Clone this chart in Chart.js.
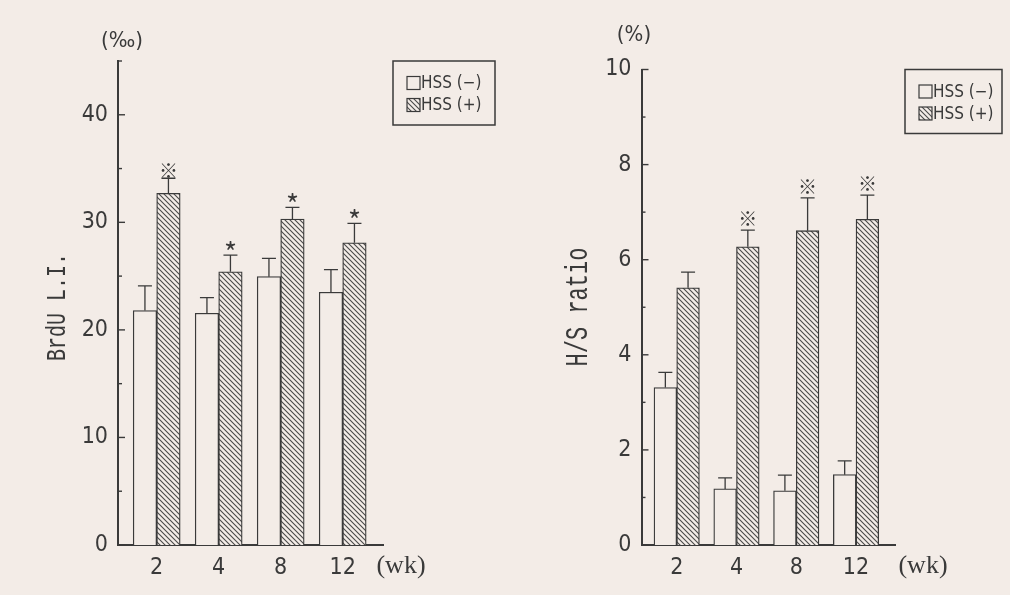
<!DOCTYPE html>
<html><head><meta charset="utf-8">
<script src="https://cdn.jsdelivr.net/npm/chart.js@4.4.0/dist/chart.umd.min.js"></script>
<style>
html,body{margin:0;padding:0;background:#f3ece7;}
#wrap{position:relative;width:1010px;height:595px;overflow:hidden;background:#f3ece7;}
canvas{position:absolute;top:0;}
</style></head><body>
<div id="wrap">
<canvas id="left" width="505" height="595" style="left:0;width:505px;height:595px"></canvas>
<canvas id="right" width="505" height="595" style="left:505px;width:505px;height:595px"></canvas>
</div>
<script>
// ---------- data ----------
const weeks = ['2', '4', '8', '12'];
const seriesLabels = ['HSS (−)', 'HSS (+)'];

const brduNeg   = [21.8, 21.55, 24.95, 23.5];
const brduNegSD = [2.3, 1.45, 1.7, 2.1];
const brduPos   = [32.7, 25.4, 30.3, 28.1];
const brduPosSD = [1.4, 1.55, 1.1, 1.8];
const brduNegMarks = ['', '', '', ''];
const brduPosMarks = ['※', '*', '*', '*'];
const brduTicks      = [0, 5, 10, 15, 20, 25, 30, 35, 40, 45];
const brduTickLabels = ['0', '', '10', '', '20', '', '30', '', '40', ''];

const hsNeg   = [3.31, 1.18, 1.14, 1.48];
const hsNegSD = [0.32, 0.23, 0.33, 0.29];
const hsPos   = [5.41, 6.27, 6.61, 6.85];
const hsPosSD = [0.33, 0.35, 0.69, 0.51];
const hsNegMarks = ['', '', '', ''];
const hsPosMarks = ['', '※', '※', '※'];
const hsTicks      = [0, 1, 2, 3, 4, 5, 6, 7, 8, 9, 10];
const hsTickLabels = ['0', '', '2', '', '4', '', '6', '', '8', '', '10'];

const leftUnit = '(‰)', leftTitle = 'BrdU L.I.';
const rightUnit = '(%)', rightTitle = 'H/S ratio';
const xUnit = '(wk)';

// ---------- styles ----------
const PAPER = '#f3ece7';
const INK = '#3a3a3a';
const NARROW = "'Liberation Sans Narrow','Arial Narrow','DejaVu Sans Condensed',sans-serif";
const MONO = "'Liberation Mono','DejaVu Sans Mono',monospace";
const SERIF = "'Liberation Serif','DejaVu Serif',serif";
const CJK = "'Noto Sans CJK JP',sans-serif";

function hatchPattern() {
  const n = 5;
  const c = document.createElement('canvas');
  c.width = n; c.height = n;
  const g = c.getContext('2d');
  g.fillStyle = PAPER; g.fillRect(0, 0, n, n);
  g.strokeStyle = '#4a4a4a'; g.lineWidth = 1.1;
  g.beginPath();
  g.moveTo(-1, -1); g.lineTo(n + 1, n + 1);
  g.moveTo(-1, n - 1); g.lineTo(1, n + 1);
  g.moveTo(n - 1, -1); g.lineTo(n + 1, 1);
  g.stroke();
  return g.createPattern(c, 'repeat');
}

function drawCentered(ctx, text, x, cy) {
  const m = ctx.measureText(text);
  const a = m.actualBoundingBoxAscent, d = m.actualBoundingBoxDescent;
  ctx.textAlign = 'center'; ctx.textBaseline = 'alphabetic';
  ctx.fillText(text, x, cy + (a - d) / 2);
}

function makeDecor(cfg) {
  return {
    id: 'decor',
    afterDatasetsDraw(chart) {
      const ctx = chart.ctx, ys = chart.scales.y;
      ctx.save();
      ctx.strokeStyle = INK; ctx.lineWidth = 1.3;
      chart.data.datasets.forEach((ds, i) => {
        const meta = chart.getDatasetMeta(i);
        meta.data.forEach((bar, j) => {
          const top = ys.getPixelForValue(ds.data[j].y + ds.sd[j]);
          ctx.beginPath();
          ctx.moveTo(bar.x, bar.y); ctx.lineTo(bar.x, top);
          ctx.moveTo(bar.x - 7, top); ctx.lineTo(bar.x + 7, top);
          ctx.stroke();
          const m = ds.marks[j];
          if (m) {
            ctx.fillStyle = INK;
            ctx.font = (m === '*' ? '28px ' : '19px ') + CJK;
            drawCentered(ctx, m, bar.x, top - (m === '*' ? 10 : cfg.markGap));
          }
        });
      });
      ctx.restore();
    },
    afterDraw(chart) {
      const ctx = chart.ctx, ca = chart.chartArea, ys = chart.scales.y;
      ctx.save();
      // inward tick marks on the y axis
      ctx.strokeStyle = INK; ctx.lineWidth = 1.4;
      ys.ticks.forEach((t, i) => {
        const py = ys.getPixelForValue(t.value);
        const len = cfg.tickLabels[i] ? 7 : 4;
        ctx.beginPath(); ctx.moveTo(ca.left, py); ctx.lineTo(ca.left + len, py); ctx.stroke();
      });
      // unit above y axis
      ctx.fillStyle = INK;
      ctx.font = '22px ' + NARROW;
      ctx.textAlign = 'center'; ctx.textBaseline = 'middle';
      ctx.fillText(cfg.unit, ca.left + cfg.unitDx, cfg.unitY);
      // rotated y title
      ctx.save();
      ctx.translate(ca.left + cfg.titleDx, cfg.titleY);
      ctx.rotate(-Math.PI / 2);
      ctx.scale(1, 1.4);
      ctx.font = cfg.titleSize + 'px ' + MONO;
      ctx.textAlign = 'center'; ctx.textBaseline = 'middle';
      ctx.fillText(cfg.title, 0, 0);
      ctx.restore();
      // x unit
      ctx.font = '26px ' + SERIF;
      ctx.textAlign = 'center'; ctx.textBaseline = 'middle';
      ctx.fillText(xUnit, ca.right + cfg.xUnitDx, ca.bottom + 21);
      // legend box
      const L = { x: ca.right + 10, y: ca.top, w: cfg.legW, h: 64 };
      ctx.lineWidth = 1.5; ctx.strokeStyle = INK;
      ctx.strokeRect(L.x, L.y, L.w, L.h);
      chart.data.datasets.forEach((ds, i) => {
        const sy = L.y + 22 + i * 22;
        ctx.fillStyle = ds.backgroundColor;
        ctx.fillRect(L.x + 14, sy - 6.5, 13, 13);
        ctx.lineWidth = 1.2;
        ctx.strokeRect(L.x + 14, sy - 6.5, 13, 13);
        ctx.fillStyle = INK;
        ctx.font = '17px ' + NARROW;
        ctx.textAlign = 'left'; ctx.textBaseline = 'middle';
        ctx.fillText(ds.label, L.x + 28, sy + 1);
      });
      ctx.restore();
    }
  };
}

function buildChart(id, o) {
  const hatch = hatchPattern();
  const toXY = arr => arr.map((v, i) => ({ x: i, y: v }));
  return new Chart(document.getElementById(id), {
    type: 'bar',
    data: {
      datasets: [
        { label: seriesLabels[0], data: toXY(o.neg), sd: o.negSD, marks: o.negMarks,
          backgroundColor: PAPER, borderColor: INK, borderWidth: 1.3, borderSkipped: 'bottom', barThickness: o.bar },
        { label: seriesLabels[1], data: toXY(o.pos), sd: o.posSD, marks: o.posMarks,
          backgroundColor: hatch, borderColor: INK, borderWidth: 1.3, borderSkipped: 'bottom', barThickness: o.bar }
      ]
    },
    options: {
      responsive: false, animation: false, events: [], devicePixelRatio: 1,
      layout: { padding: o.padding },
      plugins: { legend: { display: false }, tooltip: { enabled: false } },
      scales: {
        x: {
          type: 'linear', min: o.xMin, max: o.xMax, offset: false,
          afterBuildTicks: s => { s.ticks = weeks.map((_, i) => ({ value: i })); },
          afterFit: s => { s.height = 50; },
          grid: { display: false, drawTicks: false, offset: false },
          border: { display: true, color: INK, width: 2 },
          ticks: { autoSkip: false, maxRotation: 0, padding: 9, color: INK,
                   font: { family: NARROW, size: 23 },
                   callback: v => (weeks[v] !== undefined ? weeks[v] : '') }
        },
        y: {
          min: 0, max: o.yMax,
          afterBuildTicks: s => { s.ticks = o.ticks.map(v => ({ value: v })); },
          afterFit: s => { s.width = 60; },
          grid: { display: false, drawTicks: false },
          border: { display: true, color: INK, width: 2 },
          ticks: { padding: 10, color: INK, font: { family: NARROW, size: 23 },
                   callback: (v, i) => o.tickLabels[i] }
        }
      }
    },
    plugins: [makeDecor(o.decor)]
  });
}

buildChart('left', {
  neg: brduNeg, negSD: brduNegSD, pos: brduPos, posSD: brduPosSD,
  negMarks: brduNegMarks, posMarks: brduPosMarks,
  ticks: brduTicks, tickLabels: brduTickLabels, yMax: 45,
  xMin: -0.624, xMax: 3.65, bar: 23.5,
  padding: { left: 58, right: 122, top: 61, bottom: 0 },
  decor: { tickLabels: brduTickLabels, unit: leftUnit, unitDx: 4, unitY: 41,
           title: leftTitle, titleDx: -60, titleY: 307, titleSize: 20,
           xUnitDx: 18, legW: 102, markGap: 8 }
});

buildChart('right', {
  neg: hsNeg, negSD: hsNegSD, pos: hsPos, posSD: hsPosSD,
  negMarks: hsNegMarks, posMarks: hsPosMarks,
  ticks: hsTicks, tickLabels: hsTickLabels, yMax: 10,
  xMin: -0.589, xMax: 3.652, bar: 22.7,
  padding: { left: 76.5, right: 115, top: 69.5, bottom: 0 },
  decor: { tickLabels: hsTickLabels, unit: rightUnit, unitDx: -7.5, unitY: 35,
           title: rightTitle, titleDx: -62.5, titleY: 307, titleSize: 22,
           xUnitDx: 28, legW: 97, markGap: 11.5 }
});
</script>
</body></html>
